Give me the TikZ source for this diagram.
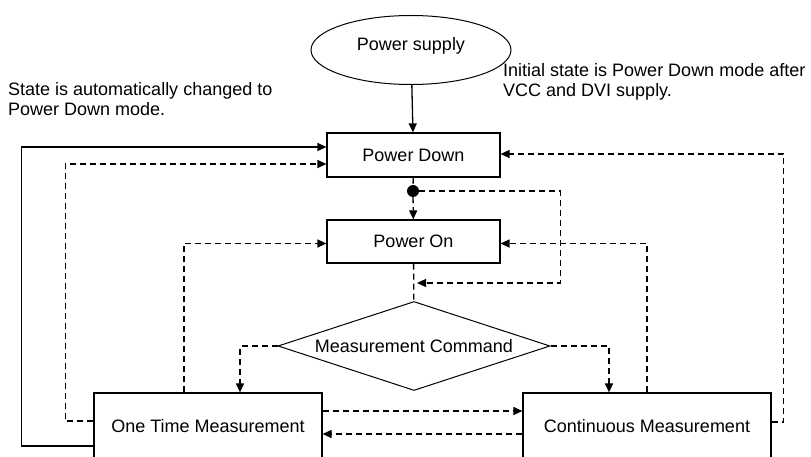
\documentclass[tikz,border=0pt]{standalone}
\usepackage{fontspec}
\setmainfont{Liberation Sans}
\usetikzlibrary{arrows.meta,positioning,shapes.geometric,calc}
\tikzset{
  box/.style={draw,line width=1.2pt,minimum width=173pt,minimum height=44pt,inner sep=0pt,align=center},
  mbox/.style={box,minimum height=66pt},
  supply/.style={ellipse,draw,line width=1pt,minimum width=200pt,minimum height=69pt,inner sep=0pt,text depth=12pt},
  cmd/.style={diamond,draw,line width=1pt,aspect=3.06,minimum width=272pt,minimum height=89pt,inner sep=0pt},
  dot/.style={circle,fill,inner sep=0pt,minimum size=12pt},
  ar/.style={-{Triangle[length=9pt,width=8pt]},line width=1.3pt},
  dar/.style={ar,dash pattern=on 6pt off 4pt},
  dln/.style={line width=1.3pt,dash pattern=on 6pt off 4pt},
  note/.style={align=left,inner sep=0pt},
}
\begin{document}
\begin{tikzpicture}[x=1pt,y=-1pt,font=\fontsize{18}{19.5}\selectfont]
\useasboundingbox (0,0) rectangle (811,457);
\clip (0,0) rectangle (811,457);
% states
\node[supply] (supply) at (411,50) {Power supply};
\node[box] (pdown) at (413.5,155) {Power Down};
\node[dot] (dot) at (413,191) {};
\node[box,minimum height=43pt] (pon) at (413.5,241.5) {Power On};
\node[cmd] (cmd) at (414,346) {Measurement Command};
\node[mbox,minimum width=228pt] (once) at (208,426) {One Time Measurement};
\node[mbox,minimum width=248pt] (cont) at (647,426) {Continuous Measurement};
% notes
\node[note,anchor=west] (autonote) at (8,99) {State is automatically changed to\\Power Down mode.};
\node[note,anchor=west] (initnote) at (503,82) {Initial state is Power Down mode after\\VCC and DVI supply.};
% connectors
\draw[ar] (supply) -- (pdown);
\draw[ar] ($(once.west)+(0,20)$) -- ++(-72,0) |- ($(pdown.west)+(0,-8)$);
\draw[dar] ($(once.west)+(0,-5)$) -- ++(-28,0) |- ($(pdown.west)+(0,9)$);
\draw[dar] ($(cont.east)+(0,-4)$) -- ++(12,0) |- ($(pdown.east)+(0,-1)$);
\draw[dln] (pdown) -- (dot);
\draw[dar] (dot) -- (pon);
\coordinate (merge) at (417,283);
\draw[dar] (dot.east) -- ++(141,0) |- (merge);
\draw[dln] (pon) -- (cmd);
\draw[dar] (cmd.west) -| ($(once.north)+(32,0)$);
\draw[dar] (cmd.east) -| ($(cont.north)+(-38,0)$);
\draw[dar] ($(once.north)+(-24,0)$) |- ($(pon.west)+(0,2)$);
\draw[dar] (cont.north) |- ($(pon.east)+(0,2)$);
\draw[dar] ($(once.east)+(0,-15)$) -- ($(cont.west)+(0,-15)$);
\draw[dar] ($(cont.west)+(0,8)$) -- ($(once.east)+(0,8)$);
\end{tikzpicture}
\end{document}
